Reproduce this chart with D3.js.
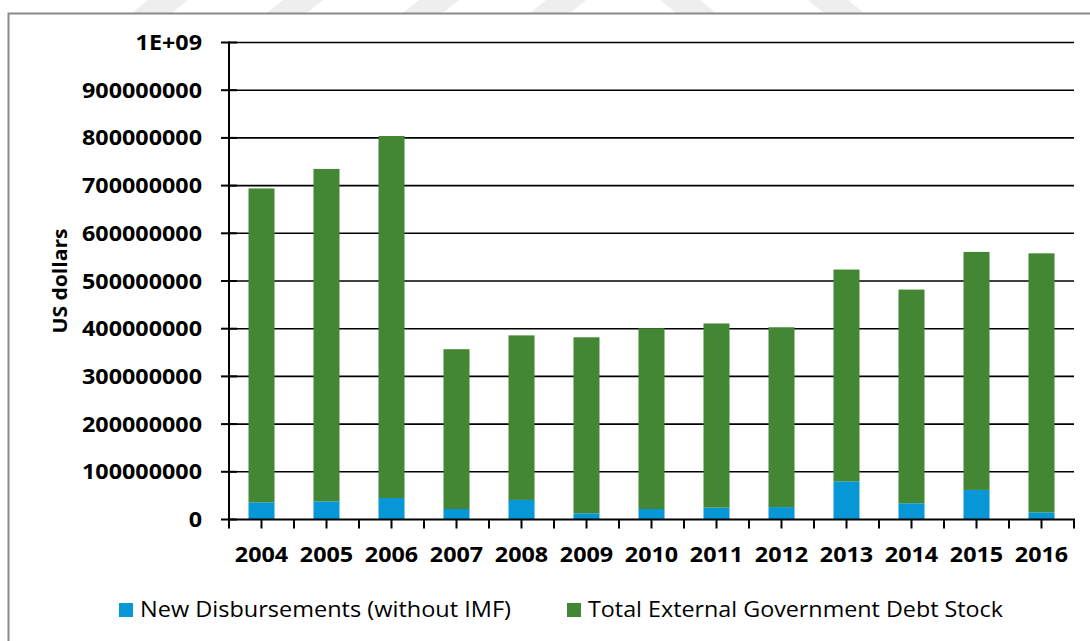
<!DOCTYPE html>
<html>
<head>
<meta charset="utf-8">
<script src="https://cdn.jsdelivr.net/npm/d3@7"></script>
<style>
  html, body { margin: 0; padding: 0; background: #ffffff; }
  svg { display: block; }
  text { font-family: "Open Sans", "Liberation Sans", sans-serif; fill: #000; }
</style>
</head>
<body>
<svg id="chart" width="1090" height="641"></svg>
<script>
// Annual figures, US dollars
const years = ["2004","2005","2006","2007","2008","2009","2010","2011","2012","2013","2014","2015","2016"];
const newDisbursements = [36000000, 38000000, 45000000, 22000000, 41000000, 13000000, 22000000, 25000000, 26000000, 80000000, 34000000, 62000000, 15000000];
const debtStock = [658000000, 697000000, 759000000, 335000000, 345000000, 369000000, 379000000, 386000000, 377000000, 444000000, 448000000, 499000000, 543000000];
const yTickValues = [0, 100000000, 200000000, 300000000, 400000000, 500000000, 600000000, 700000000, 800000000, 900000000, 1000000000];
const yTickLabels = ["0","100000000","200000000","300000000","400000000","500000000","600000000","700000000","800000000","900000000","1E+09"];
const seriesNames = ["New Disbursements (without IMF)", "Total External Government Debt Stock"];
const seriesColors = ["#0796d6", "#438633"];

const svg = d3.select("#chart");
const STRETCH = 1.11;

// widen glyphs slightly, as in the original export
function stretch(sel) {
  sel.each(function () {
    const len = this.getComputedTextLength();
    d3.select(this).attr("textLength", len * STRETCH).attr("lengthAdjust", "spacingAndGlyphs");
  });
}

// faint banner shapes along the top edge
const bands = [
  {x: 132, dir: 1}, {x: 267, dir: 1}, {x: 403, dir: 1}, {x: 530, dir: 1},
  {x: 676, dir: -1}, {x: 824, dir: -1}
];
svg.append("g").selectAll("path").data(bands).join("path")
  .attr("d", d => {
    const w = 40, s = 16 * d.dir;
    return `M${d.x},13 L${d.x + w},13 L${d.x + w + s},0 L${d.x + s},0 Z`;
  })
  .attr("fill", "#eeeeee");

// frame
svg.append("path")
  .attr("d", "M8.5,641 V13.5 H1090")
  .attr("fill", "none").attr("stroke", "#8a8a8a").attr("stroke-width", 2);

const x = d3.scaleBand().domain(years).range([229, 1074]).paddingInner(0.6).paddingOuter(0.3);
const y = d3.scaleLinear().domain([0, 1000000000]).range([519.5, 42.5]);

// horizontal gridlines
svg.append("g").selectAll("line").data(yTickValues.slice(1)).join("line")
  .attr("x1", 229).attr("x2", 1074)
  .attr("y1", d => y(d)).attr("y2", d => y(d))
  .attr("stroke", "#000").attr("stroke-width", 1.6);

// stacked bars
const rows = years.map((yr, i) => ({year: yr, a: newDisbursements[i], b: debtStock[i]}));
const stacked = d3.stack().keys(["a", "b"])(rows);
svg.append("g").selectAll("g").data(stacked).join("g")
  .attr("fill", (d, i) => seriesColors[i])
  .selectAll("rect").data(d => d).join("rect")
  .attr("x", d => x(d.data.year))
  .attr("width", x.bandwidth())
  .attr("y", d => y(d[1]))
  .attr("height", d => y(d[0]) - y(d[1]));

// y axis
svg.append("line").attr("x1", 229).attr("x2", 229).attr("y1", y(1000000000) - 1).attr("y2", y(0) + 1)
  .attr("stroke", "#000").attr("stroke-width", 2);
svg.append("g").selectAll("line").data(yTickValues).join("line")
  .attr("x1", 221).attr("x2", 237)
  .attr("y1", d => y(d)).attr("y2", d => y(d))
  .attr("stroke", "#000").attr("stroke-width", 2);
svg.append("g").selectAll("text").data(yTickValues).join("text")
  .attr("x", 202).attr("y", d => y(d))
  .attr("dy", "0.36em")
  .attr("text-anchor", "end")
  .attr("font-size", 21).attr("font-weight", 700)
  .text((d, i) => yTickLabels[i])
  .call(stretch);

// x axis with ticks at every half category
const step = x.step();
const x0 = x(years[0]) - step * x.paddingOuter();
const tickXs = d3.range(years.length * 2 + 1).map(k => x0 + k * step / 2);
svg.append("line").attr("x1", 228).attr("x2", 1075).attr("y1", y(0)).attr("y2", y(0))
  .attr("stroke", "#000").attr("stroke-width", 2);
svg.append("g").selectAll("line").data(tickXs).join("line")
  .attr("x1", d => d).attr("x2", d => d)
  .attr("y1", y(0)).attr("y2", y(0) + 9)
  .attr("stroke", "#000").attr("stroke-width", 2);
svg.append("g").selectAll("text").data(years).join("text")
  .attr("x", d => x(d) + x.bandwidth() / 2).attr("y", 562)
  .attr("text-anchor", "middle")
  .attr("font-size", 21).attr("font-weight", 700)
  .text(d => d)
  .call(stretch);

// axis title
svg.append("text")
  .attr("transform", "translate(67,281) rotate(-90)")
  .attr("text-anchor", "middle")
  .attr("font-size", 20).attr("font-weight", 700)
  .attr("textLength", 105).attr("lengthAdjust", "spacingAndGlyphs")
  .text("US dollars");

// legend
const legend = [
  {name: seriesNames[0], color: seriesColors[0], sx: 119, tx: 140, len: 371},
  {name: seriesNames[1], color: seriesColors[1], sx: 567, tx: 588, len: 415}
];
const lg = svg.append("g").selectAll("g").data(legend).join("g");
lg.append("rect").attr("x", d => d.sx).attr("y", 603).attr("width", 14).attr("height", 14)
  .attr("fill", d => d.color);
lg.append("text").attr("x", d => d.tx).attr("y", 617)
  .attr("font-size", 21)
  .attr("textLength", d => d.len).attr("lengthAdjust", "spacingAndGlyphs")
  .text(d => d.name);
</script>
</body>
</html>
